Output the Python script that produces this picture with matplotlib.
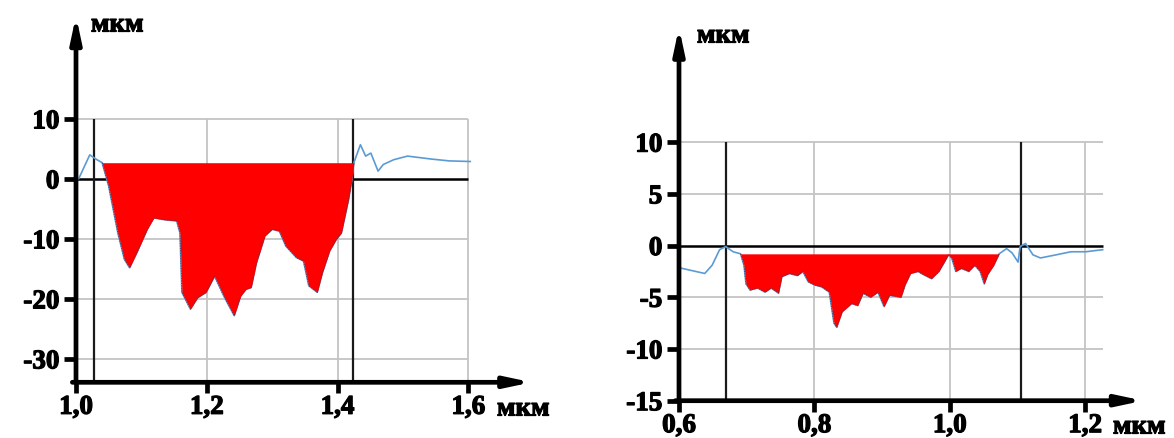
import numpy as np
import matplotlib
matplotlib.use("Agg")
import matplotlib.pyplot as plt
import matplotlib.patheffects as pe

# ---------------- data ----------------
# Left profile (x in мкм, height in мкм)
left_x = [1.0, 1.004, 1.021, 1.032, 1.040, 1.050, 1.064, 1.074, 1.082, 1.093, 1.109, 1.119,
          1.135, 1.154, 1.159, 1.162, 1.175, 1.186, 1.199, 1.212, 1.226, 1.242, 1.252, 1.260,
          1.268, 1.276, 1.289, 1.300, 1.311, 1.321, 1.337, 1.348, 1.356, 1.369, 1.377, 1.388,
          1.398, 1.406, 1.417, 1.422, 1.425, 1.435, 1.443, 1.451, 1.462, 1.470, 1.486, 1.507,
          1.544, 1.571, 1.603]
left_y = [0.0, 0.0, 4.0, 3.2, 2.7, -1.2, -9.0, -13.4, -14.8, -12.3, -8.4, -6.5,
          -6.8, -7.0, -9.0, -18.9, -21.7, -19.8, -18.9, -16.2, -19.5, -22.8, -19.5, -18.4,
          -18.1, -14.0, -9.5, -8.4, -8.7, -11.2, -13.1, -13.7, -17.8, -18.9, -15.6, -12.0,
          -10.1, -9.0, -3.4, -0.1, 2.7, 5.7, 3.8, 4.3, 1.3, 2.4, 3.2, 3.8,
          3.3, 3.0, 2.9]
left_level = 2.7
left_fill_range = [1.040, 1.425]
left_markers = [1.028, 1.4235]
left_xticks = [1.0, 1.2, 1.4, 1.6]
left_xticklabels = ["1,0", "1,2", "1,4", "1,6"]
left_yticks = [10, 0, -10, -20, -30]
left_yticklabels = ["10", "0", "-10", "-20", "-30"]
left_hgrid = [10, -10, -20, -30]
left_vgrid = [1.2, 1.4, 1.6]

# Right profile
right_x = [0.604, 0.638, 0.649, 0.660, 0.669, 0.680, 0.691, 0.696, 0.699, 0.705, 0.716, 0.727,
           0.736, 0.747, 0.752, 0.763, 0.775, 0.783, 0.791, 0.800, 0.811, 0.822, 0.829, 0.833,
           0.841, 0.855, 0.864, 0.872, 0.883, 0.894, 0.903, 0.911, 0.928, 0.934, 0.942, 0.953,
           0.961, 0.973, 0.984, 0.992, 0.998, 1.003, 1.009, 1.017, 1.028, 1.037, 1.045, 1.051,
           1.056, 1.065, 1.073, 1.084, 1.092, 1.101, 1.104, 1.112, 1.123, 1.134, 1.157, 1.179,
           1.201, 1.226]
right_y = [-2.2, -2.7, -1.9, -0.4, -0.1, -0.6, -0.8, -1.9, -3.7, -4.3, -4.1, -4.5,
           -4.1, -4.6, -3.0, -2.7, -2.9, -2.5, -3.5, -3.8, -4.0, -4.5, -7.5, -7.9,
           -6.4, -5.6, -5.8, -4.6, -5.0, -4.5, -5.9, -4.8, -5.0, -3.8, -2.7, -2.5,
           -2.8, -3.2, -2.5, -1.6, -0.9, -1.2, -2.5, -2.2, -2.5, -1.9, -2.5, -3.7,
           -2.8, -1.9, -0.8, -0.3, -0.7, -1.6, -0.1, 0.2, -0.9, -1.2, -0.9, -0.6,
           -0.6, -0.4]
right_level = -0.8
right_fill_range = [0.691, 1.073]
right_markers = [0.669, 1.1047]
right_xticks = [0.6, 0.8, 1.0, 1.2]
right_xticklabels = ["0,6", "0,8", "1,0", "1,2"]
right_yticks = [10, 5, 0, -5, -10, -15]
right_yticklabels = ["10", "5", "0", "-5", "-10", "-15"]
right_hgrid = [10, 5, -5, -10]
right_vgrid = [0.8, 1.0, 1.2]

unit = "мкм"

# ---------------- style ----------------
FONT = "Liberation Serif"
FS = 19.5
LINE_BLUE = "#5b9bd5"
RED = "#ff0000"
GRID = "#c4c4c4"
HEAVY = [pe.withStroke(linewidth=0.9, foreground="black")]

fig = plt.figure(figsize=(11.74, 4.39), dpi=100)


def style_text(t):
    t.set_fontfamily(FONT)
    t.set_fontweight("bold")
    t.set_fontsize(FS)
    t.set_path_effects(HEAVY)


def draw(ax, x, y, level, frange, markers, xticks, xtl, yticks, ytl,
         hgrid, vgrid, xlim, ylim, grid_right, grid_top):
    x = np.asarray(x)
    y = np.asarray(y)
    ax.set_xlim(*xlim)
    ax.set_ylim(*ylim)
    for s in ax.spines.values():
        s.set_visible(False)
    ax.patch.set_alpha(0)
    # grid
    ax.hlines(hgrid, xlim[0], grid_right, colors=GRID, lw=1.3, zorder=1)
    ax.vlines(vgrid, ylim[0], grid_top, colors=GRID, lw=1.3, zorder=1)
    # zero line
    ax.hlines([0], xlim[0], grid_right, colors="black", lw=1.8, zorder=2)
    # boundary markers
    ax.vlines(markers, ylim[0], grid_top, colors="#1a1a1a", lw=1.6, zorder=2)
    # profile
    ax.plot(x, y, color=LINE_BLUE, lw=1.2, zorder=3)
    m = (x >= frange[0] - 1e-9) & (x <= frange[1] + 1e-9)
    ax.fill_between(x[m], y[m], level, where=y[m] <= level, interpolate=True,
                    color=RED, lw=0, zorder=4)
    ax.plot(x[m], np.minimum(y[m], level), color="#7a2a3a", lw=0.6, ls=(0, (1.5, 1.5)),
            zorder=5)
    # axes with arrows
    style = "-|>,head_length=1.5,head_width=0.32"
    ax.annotate("", xy=(xlim[0], ylim[1]), xytext=(xlim[0], ylim[0]),
                arrowprops=dict(arrowstyle=style, lw=3.4, color="black",
                                shrinkA=0, shrinkB=0),
                annotation_clip=False, zorder=6)
    ax.annotate("", xy=(xlim[1], ylim[0]),
                xytext=(xlim[0] - 0.008 * (xlim[1] - xlim[0]), ylim[0]),
                arrowprops=dict(arrowstyle=style, lw=3.4, color="black",
                                shrinkA=0, shrinkB=0),
                annotation_clip=False, zorder=6)
    # ticks
    ax.set_xticks(xticks)
    ax.set_xticklabels(xtl)
    ax.set_yticks(yticks)
    ax.set_yticklabels(ytl)
    ax.tick_params(axis="both", direction="out", width=3.4, color="black")
    ax.tick_params(axis="y", length=9, pad=3)
    ax.tick_params(axis="x", length=8, pad=1)
    for lab in ax.get_xticklabels() + ax.get_yticklabels():
        style_text(lab)


# Left chart
axL = fig.add_axes([76 / 1174, (439 - 383.3) / 439, 455.7 / 1174, 366.6 / 439])
draw(axL, left_x, left_y, left_level, left_fill_range, left_markers,
     left_xticks, left_xticklabels, left_yticks, left_yticklabels,
     left_hgrid, left_vgrid, (1.0, 1.697), (-33.9, 27.2), 1.6, 10)
style_text(fig.text(91 / 1174, 1 - 26 / 439, unit, ha="left", va="center"))
style_text(fig.text(497 / 1174, 1 - 410 / 439, unit, ha="left", va="center"))

# Right chart
axR = fig.add_axes([679 / 1174, (439 - 401.7) / 439, 464.3 / 1174, 373.4 / 439])
draw(axR, right_x, right_y, right_level, right_fill_range, right_markers,
     right_xticks, right_xticklabels, right_yticks, right_yticklabels,
     right_hgrid, right_vgrid, (0.6, 1.286), (-15, 21.1), 1.227, 10)
style_text(fig.text(697 / 1174, 1 - 37 / 439, unit, ha="left", va="center"))
style_text(fig.text(1113 / 1174, 1 - 428 / 439, unit, ha="left", va="center"))

fig.savefig("out.png", dpi=100)
